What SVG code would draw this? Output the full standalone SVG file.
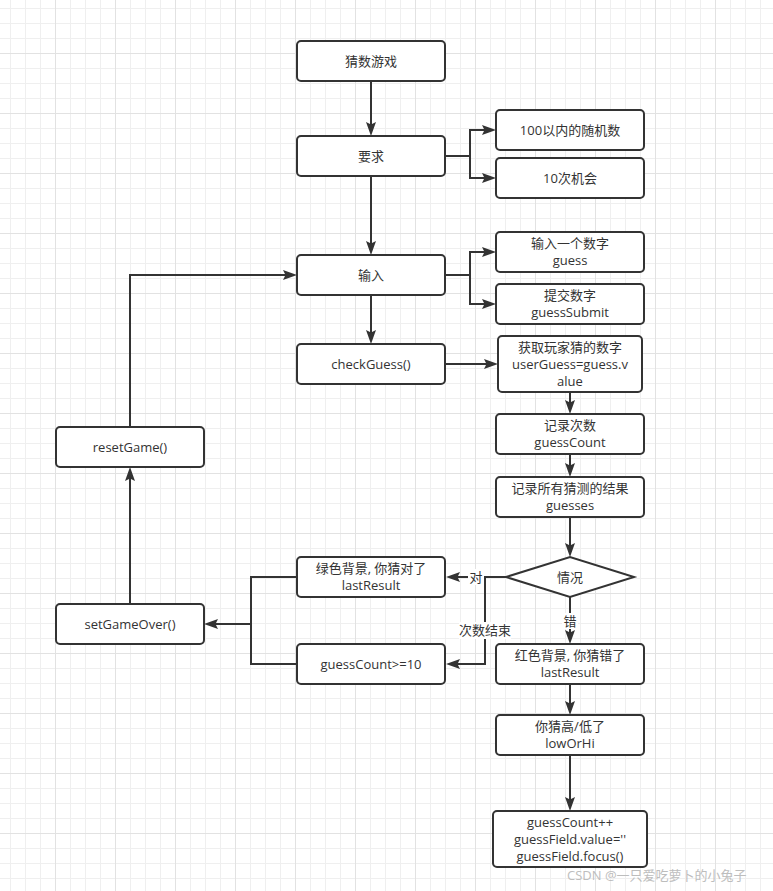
<svg xmlns="http://www.w3.org/2000/svg" width="773" height="891" viewBox="0 0 773 891">
<defs>
<pattern id="grid" patternUnits="userSpaceOnUse" x="-5" y="-7" width="60" height="60">
<rect x="15" y="0" width="1" height="60" fill="#efefef"/>
<rect x="30" y="0" width="1" height="60" fill="#efefef"/>
<rect x="45" y="0" width="1" height="60" fill="#efefef"/>
<rect x="0" y="15" width="60" height="1" fill="#efefef"/>
<rect x="0" y="30" width="60" height="1" fill="#efefef"/>
<rect x="0" y="45" width="60" height="1" fill="#efefef"/>
<rect x="0" y="0" width="1" height="60" fill="#e2e2e2"/>
<rect x="0" y="0" width="60" height="1" fill="#e2e2e2"/>
</pattern>
<marker id="arr" markerUnits="userSpaceOnUse" markerWidth="16" markerHeight="12" refX="10" refY="5" orient="auto">
<path d="M0,0 L14,5 L0,10 L2.5,5 Z" fill="#333"/>
</marker>
</defs>
<style>
.box{fill:#fff;stroke:#333;stroke-width:2}
.t{font-family:"Open Sans","Noto Sans CJK SC",sans-serif;font-size:13px;fill:#333;text-anchor:middle;dominant-baseline:central}
.c{fill:none;stroke:#333;stroke-width:2}
.lbg{fill:#fff}
.wm{font-family:"Open Sans","Noto Sans CJK SC",sans-serif;font-size:13px;fill:#bdbdbd;text-anchor:start;dominant-baseline:central}
</style>
<rect x="0" y="0" width="773" height="891" fill="#fff"/>
<rect x="0" y="0" width="773" height="891" fill="url(#grid)"/>

<g id="connectors">
<path class="c" d="M371,81 V132" marker-end="url(#arr)"/>
<path class="c" d="M446,156 H470 V130 H492" marker-end="url(#arr)"/>
<path class="c" d="M470,156 V178 H492" marker-end="url(#arr)"/>
<path class="c" d="M371,176 V251" marker-end="url(#arr)"/>
<path class="c" d="M446,275 H470 V252 H492" marker-end="url(#arr)"/>
<path class="c" d="M470,275 V304 H492" marker-end="url(#arr)"/>
<path class="c" d="M371,295 V340" marker-end="url(#arr)"/>
<path class="c" d="M446,364 H494" marker-end="url(#arr)"/>
<path class="c" d="M570,392 V410" marker-end="url(#arr)"/>
<path class="c" d="M570,454 V473" marker-end="url(#arr)"/>
<path class="c" d="M570,517 V553" marker-end="url(#arr)"/>
<path class="c" d="M506,577 H450" marker-end="url(#arr)"/>
<path class="c" d="M485,577 V664 H450" marker-end="url(#arr)"/>
<path class="c" d="M570,597 V640" marker-end="url(#arr)"/>
<path class="c" d="M570,684 V711" marker-end="url(#arr)"/>
<path class="c" d="M570,755 V807" marker-end="url(#arr)"/>
<path class="c" d="M297,577 H251 V624 H208" marker-end="url(#arr)"/>
<path class="c" d="M297,664 H251 V624"/>
<path class="c" d="M130,604 V471" marker-end="url(#arr)"/>
<path class="c" d="M130,427 V275 H293" marker-end="url(#arr)"/>
<rect class="lbg" x="468" y="569" width="16" height="16"/>
<text class="t" x="476" y="577">对</text>
<rect class="lbg" x="459" y="622" width="52" height="17"/>
<text class="t" x="485" y="630">次数结束</text>
<rect class="lbg" x="562" y="613" width="16" height="16"/>
<text class="t" x="570" y="621">错</text>
</g>

<g id="n1"><rect class="box" x="297" y="41" width="148" height="40" rx="4"/><text class="t" x="371" y="61">猜数游戏</text></g>
<g id="n2"><rect class="box" x="297" y="136" width="148" height="40" rx="4"/><text class="t" x="371" y="156">要求</text></g>
<g id="n3"><rect class="box" x="496" y="110" width="148" height="40" rx="4"/><text class="t" x="570" y="130">100以内的随机数</text></g>
<g id="n4"><rect class="box" x="496" y="158" width="148" height="40" rx="4"/><text class="t" x="570" y="178">10次机会</text></g>
<g id="n5"><rect class="box" x="297" y="255" width="148" height="40" rx="4"/><text class="t" x="371" y="275">输入</text></g>
<g id="n6"><rect class="box" x="496" y="232" width="148" height="40" rx="4"/><text class="t" x="570" y="243">输入一个数字</text><text class="t" x="570" y="260">guess</text></g>
<g id="n7"><rect class="box" x="496" y="284" width="148" height="40" rx="4"/><text class="t" x="570" y="295">提交数字</text><text class="t" x="570" y="312">guessSubmit</text></g>
<g id="n8"><rect class="box" x="297" y="344" width="148" height="40" rx="4"/><text class="t" x="371" y="364">checkGuess()</text></g>
<g id="n9"><rect class="box" x="498" y="336" width="144" height="56" rx="4"/><text class="t" x="570" y="347">获取玩家猜的数字</text><text class="t" x="570" y="364">userGuess=guess.v</text><text class="t" x="570" y="381">alue</text></g>
<g id="n10"><rect class="box" x="496" y="414" width="148" height="40" rx="4"/><text class="t" x="570" y="425">记录次数</text><text class="t" x="570" y="442">guessCount</text></g>
<g id="n11"><rect class="box" x="496" y="477" width="148" height="40" rx="4"/><text class="t" x="570" y="488">记录所有猜测的结果</text><text class="t" x="570" y="505">guesses</text></g>
<g id="n12"><polygon class="box" points="506,577 570,557 634,577 570,597"/><text class="t" x="570" y="577">情况</text></g>
<g id="n13"><rect class="box" x="297" y="557" width="148" height="40" rx="4"/><text class="t" x="371" y="568">绿色背景, 你猜对了</text><text class="t" x="371" y="585">lastResult</text></g>
<g id="n14"><rect class="box" x="297" y="644" width="148" height="40" rx="4"/><text class="t" x="371" y="664">guessCount&gt;=10</text></g>
<g id="n15"><rect class="box" x="496" y="644" width="148" height="40" rx="4"/><text class="t" x="570" y="655">红色背景, 你猜错了</text><text class="t" x="570" y="672">lastResult</text></g>
<g id="n16"><rect class="box" x="496" y="715" width="148" height="40" rx="4"/><text class="t" x="570" y="726">你猜高/低了</text><text class="t" x="570" y="743">lowOrHi</text></g>
<g id="n17"><rect class="box" x="493" y="811" width="154" height="56" rx="4"/><text class="t" x="570" y="822">guessCount++</text><text class="t" x="570" y="839">guessField.value=''</text><text class="t" x="570" y="856">guessField.focus()</text></g>
<g id="n18"><rect class="box" x="56" y="427" width="148" height="40" rx="4"/><text class="t" x="130" y="447">resetGame()</text></g>
<g id="n19"><rect class="box" x="56" y="604" width="148" height="40" rx="4"/><text class="t" x="130" y="624">setGameOver()</text></g>

<text class="wm" x="567" y="875">CSDN @一只爱吃萝卜的小兔子</text>
</svg>
